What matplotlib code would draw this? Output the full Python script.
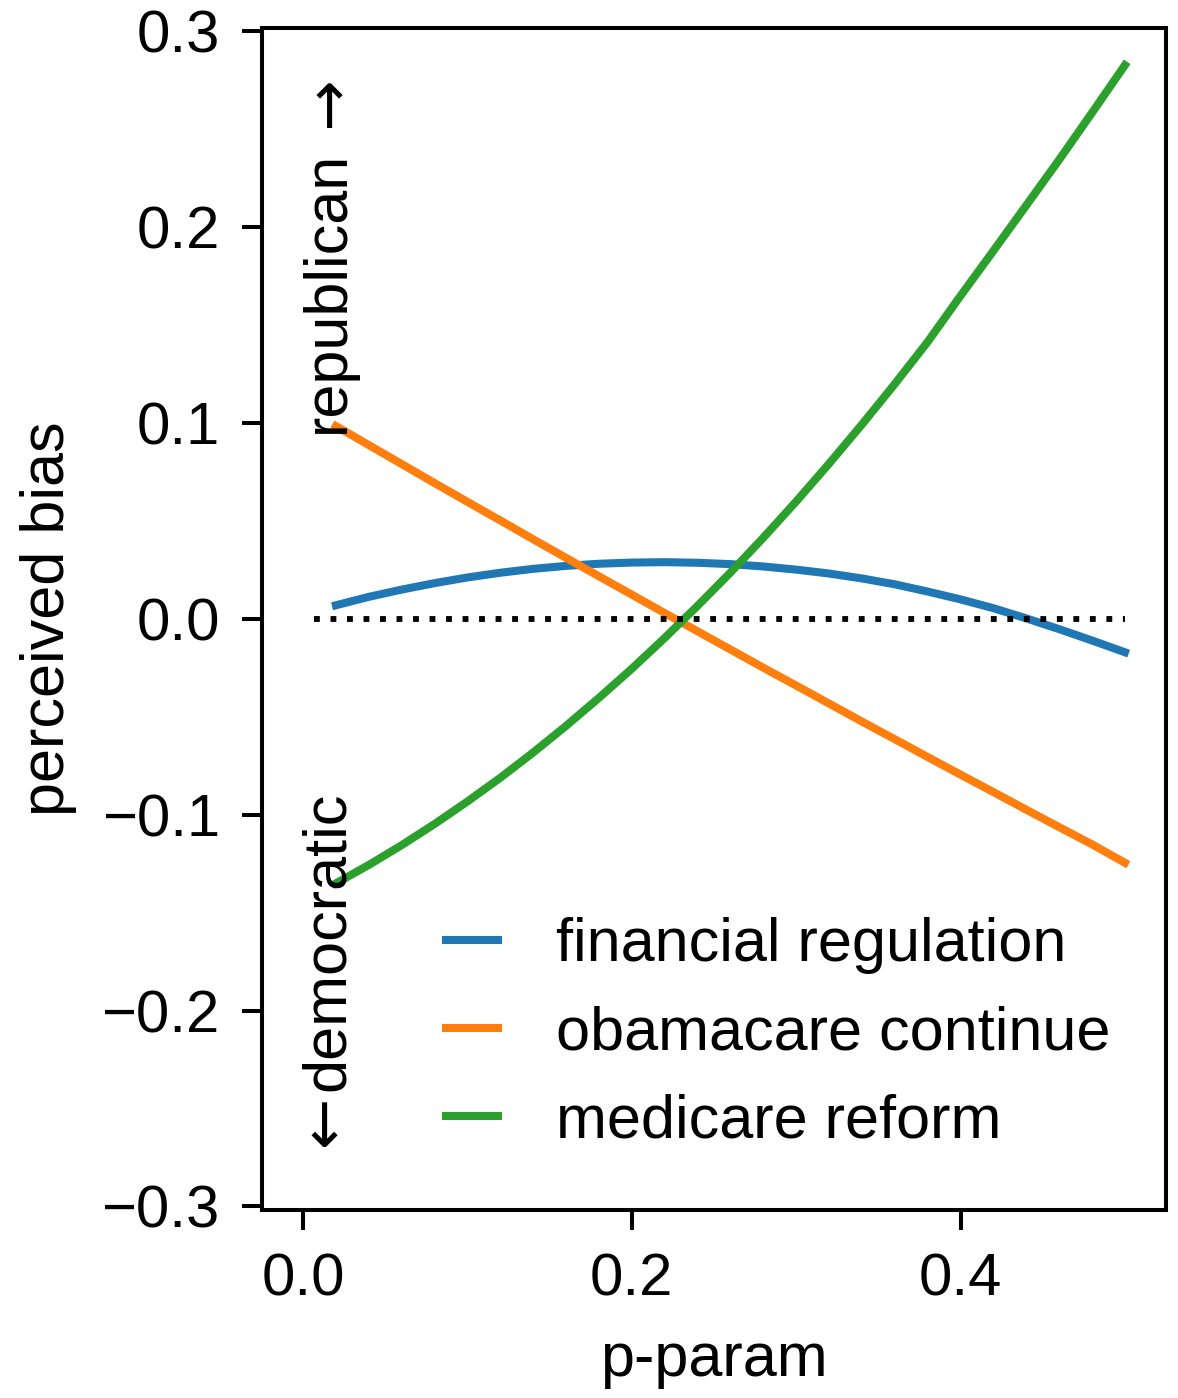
import numpy as np
import matplotlib.pyplot as plt

plt.rcParams['font.family'] = ['Liberation Sans', 'DejaVu Sans']

p = np.array([0.02, 0.04, 0.06, 0.08, 0.10, 0.12, 0.14, 0.16, 0.18, 0.20, 0.22, 0.24, 0.26,
              0.28, 0.30, 0.32, 0.34, 0.36, 0.38, 0.40, 0.42, 0.44, 0.46, 0.48, 0.50])

financial = np.array([0.0070, 0.0113, 0.0150, 0.0183, 0.0212, 0.0236, 0.0256, 0.0271, 0.0282,
                      0.0288, 0.0290, 0.0287, 0.0280, 0.0268, 0.0252, 0.0232, 0.0207, 0.0177,
                      0.0140, 0.0100, 0.0055, 0.0003, -0.0052, -0.0110, -0.0170])

obamacare = np.array([0.0985, 0.0888, 0.0791, 0.0694, 0.0598, 0.0503, 0.0407, 0.0312, 0.0218,
                      0.0124, 0.0030, -0.0063, -0.0156, -0.0249, -0.0340, -0.0432, -0.0524,
                      -0.0614, -0.0705, -0.0795, -0.0884, -0.0974, -0.1063, -0.1151, -0.1245])

medicare = np.array([-0.1350, -0.1256, -0.1155, -0.1047, -0.0932, -0.0811, -0.0682, -0.0546,
                     -0.0403, -0.0254, -0.0097, 0.0067, 0.0237, 0.0415, 0.0600, 0.0793, 0.0993,
                     0.1200, 0.1415, 0.1650, 0.1880, 0.2112, 0.2345, 0.2585, 0.2828])

zero_x = [0.0065, 0.5]
zero_y = [0.0, 0.0]

fig = plt.figure(figsize=(11.78, 13.98), dpi=100)
ax = fig.add_axes([0.2224, 0.1345, 0.7674, 0.8455])

lw = 5.8
ax.plot(p, financial, color='#1f77b4', lw=lw, label='financial regulation')
ax.plot(p, obamacare, color='#ff7f0e', lw=lw, label='obamacare continue')
ax.plot(p, medicare, color='#2ca02c', lw=lw, label='medicare reform')
ax.plot(zero_x, zero_y, color='black', lw=4.2, dashes=(1, 1.83), dash_capstyle='butt')

ax.set_xlim(-0.025, 0.525)
ax.set_ylim(-0.3018, 0.3018)
ax.set_xticks([0.0, 0.2, 0.4])
ax.set_yticks([-0.3, -0.2, -0.1, 0.0, 0.1, 0.2, 0.3])

for s in ax.spines.values():
    s.set_linewidth(2.9)
ax.tick_params(labelsize=43, length=14.4, width=2.9, pad=16)

ax.set_xlabel('p-param', fontsize=44, labelpad=18)
ax.set_ylabel('perceived bias', fontsize=44, labelpad=18)

# direction hints along the left edge
ax.text(0.0155, 0.239, 'republican', rotation=90, ha='center', va='top', fontsize=44)
ax.text(0.0158, 0.259, '\u2191', ha='center', va='center', fontsize=44, family='DejaVu Sans')
ax.text(0.0155, -0.2408, 'democratic', rotation=90, ha='center', va='bottom', fontsize=44)
ax.text(0.0128, -0.2612, '\u2193', ha='center', va='center', fontsize=44, family='DejaVu Sans')

ax.legend(loc='lower right', bbox_to_anchor=(0.999, 0.004), frameon=False, fontsize=44,
          handlelength=0.85, handletextpad=0.95, labelspacing=0.51)

fig.savefig('out.png', dpi=100)
